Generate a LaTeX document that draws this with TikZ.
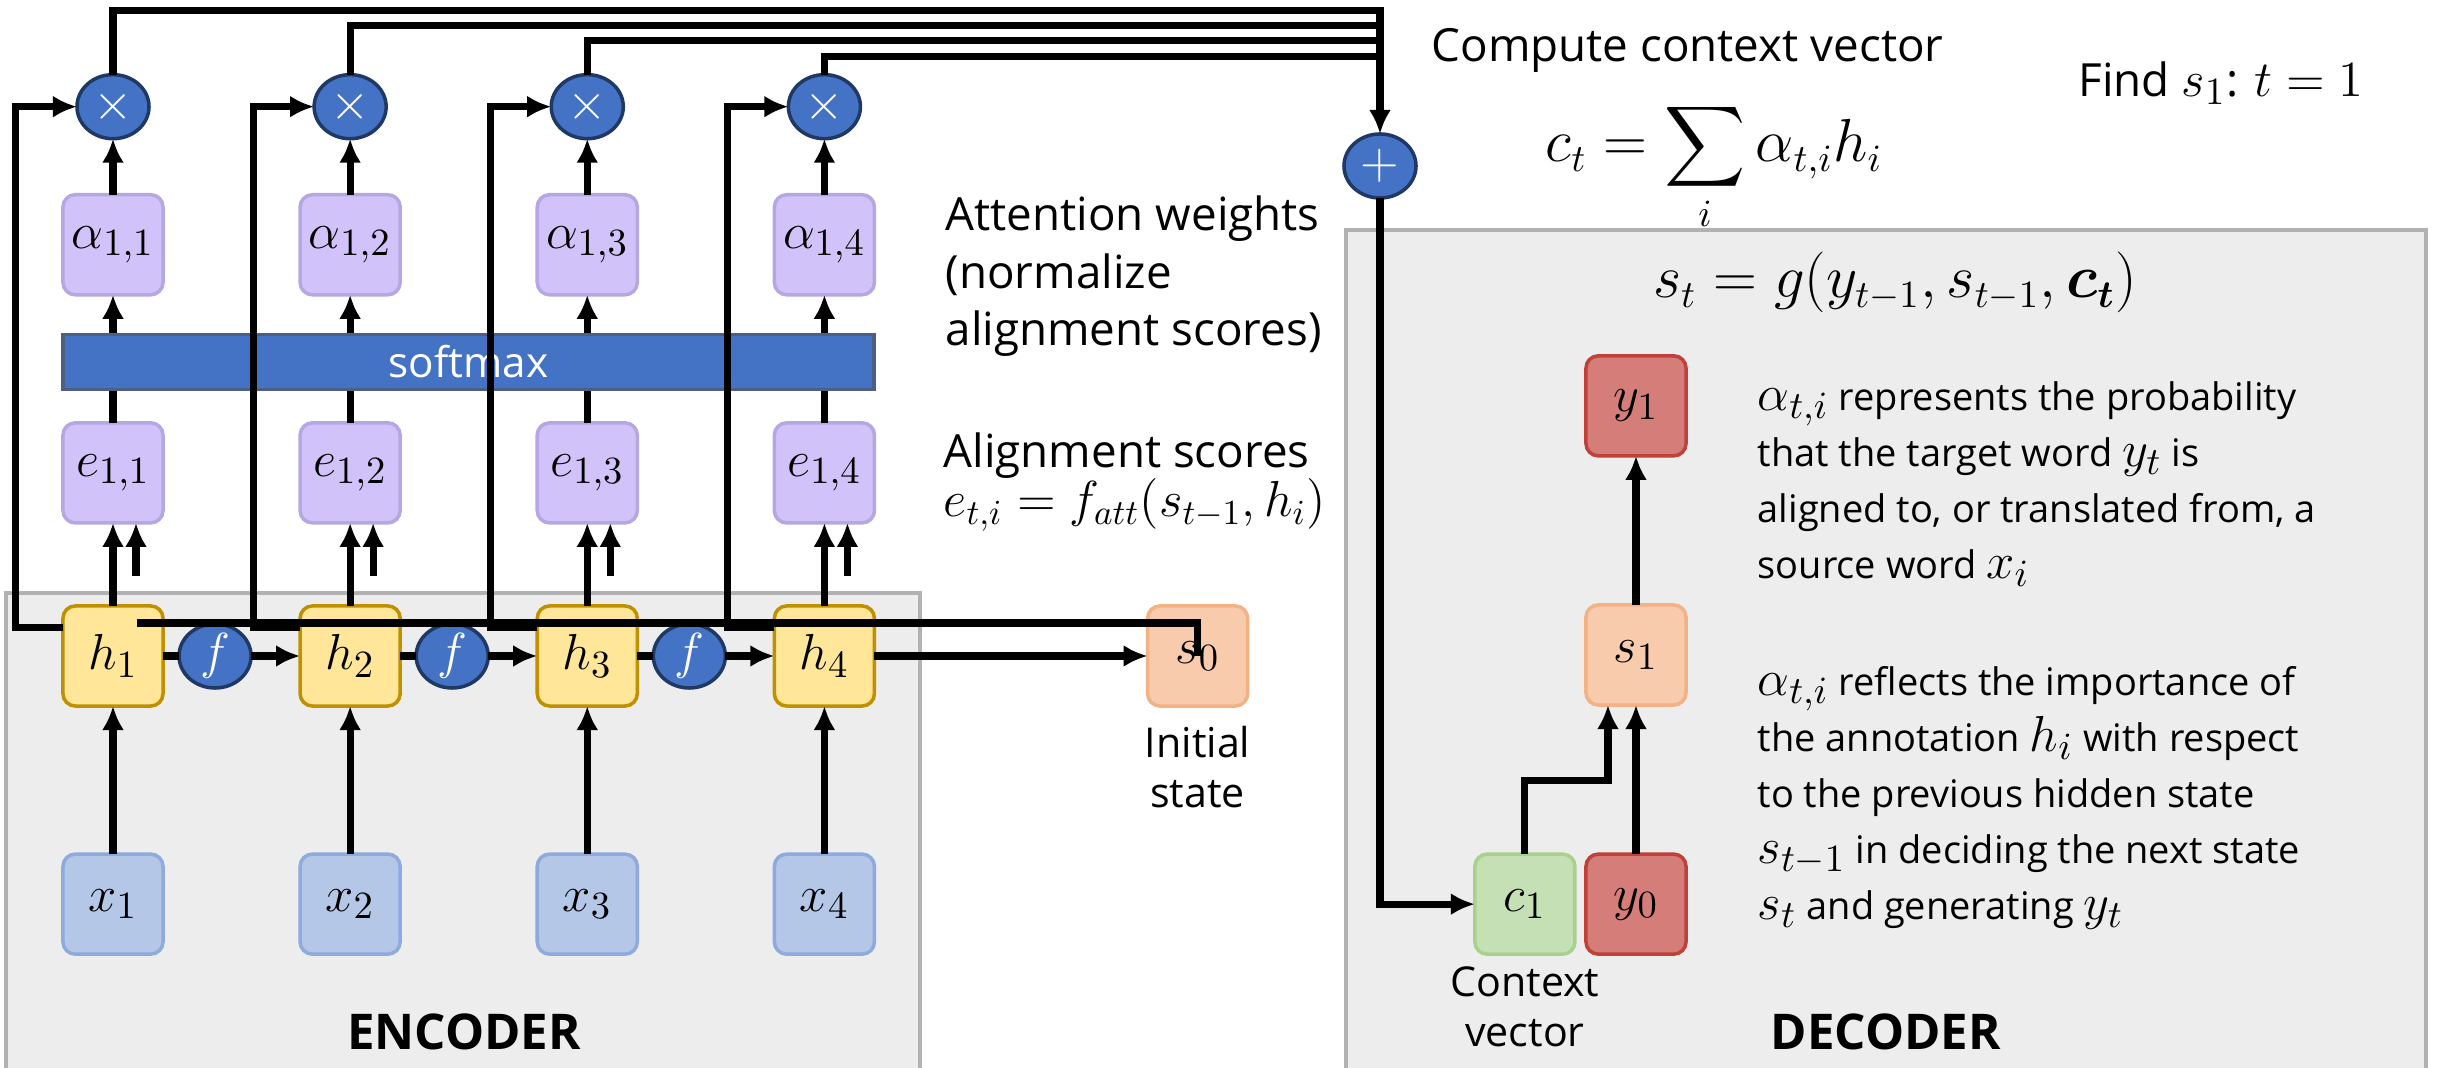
\documentclass[tikz,border=0pt]{standalone}
\usepackage{amsmath,amssymb}
\usepackage[no-math]{fontspec}
\setmainfont{Open Sans}
\usepackage{xcolor}
\usetikzlibrary{arrows.meta,positioning,shapes.geometric,calc}
\definecolor{opblue}{RGB}{68,114,196}
\definecolor{opedge}{RGB}{32,56,100}
\definecolor{lavfill}{RGB}{210,194,250}
\definecolor{lavedge}{RGB}{182,166,226}
\definecolor{hfill}{RGB}{255,230,153}
\definecolor{hedge}{RGB}{191,144,0}
\definecolor{xfill}{RGB}{180,199,231}
\definecolor{xedge}{RGB}{143,170,220}
\definecolor{sfill}{RGB}{248,203,173}
\definecolor{sedge}{RGB}{244,177,131}
\definecolor{yfill}{RGB}{213,126,121}
\definecolor{yedge}{RGB}{192,64,58}
\definecolor{cfill}{RGB}{197,224,180}
\definecolor{cedge}{RGB}{169,209,142}
\definecolor{panelfill}{RGB}{237,237,237}
\definecolor{paneledge}{RGB}{178,178,178}
\newcommand{\mth}[1]{{\fontsize{15}{15}\selectfont$#1$}}
\tikzset{
  bbox/.style={rounded corners=3.5pt, minimum width=1cm, minimum height=1cm, inner sep=0, outer sep=0, line width=1pt, font=\fontsize{15}{17}\selectfont},
  hbox/.style={bbox, fill=hfill, draw=hedge},
  xbox/.style={bbox, fill=xfill, draw=xedge},
  ebox/.style={bbox, fill=lavfill, draw=lavedge},
  sbox/.style={bbox, fill=sfill, draw=sedge},
  ybox/.style={bbox, fill=yfill, draw=yedge},
  cbox/.style={bbox, fill=cfill, draw=cedge},
  opnode/.style={ellipse, fill=opblue, draw=opedge, line width=1pt, text=white, minimum width=0.72cm, minimum height=0.64cm, inner sep=0, outer sep=0, font=\fontsize{14}{16}\selectfont},
  smbar/.style={rectangle, fill=opblue, draw=opedge!80, line width=1pt, text=white, minimum width=8.11cm, minimum height=0.55cm, inner sep=0, font=\fontsize{12}{14}\selectfont},
  panel/.style={fill=panelfill, draw=paneledge, line width=1pt},
  txt/.style={align=left, inner sep=0, font=\fontsize{13}{16.4}\selectfont},
  note/.style={align=left, inner sep=0, font=\fontsize{10.8}{15.9}\selectfont},
  fml/.style={inner sep=0, font=\fontsize{16}{18}\selectfont},
  lbl/.style={align=center, inner sep=0, font=\fontsize{11.7}{14.2}\selectfont},
  ptitle/.style={inner sep=0, font=\fontsize{14}{16}\selectfont\bfseries},
  fline/.style={line width=2pt},
  farr/.style={-{Latex[length=0.24cm,width=0.22cm]}, line width=2pt}
}
\begin{document}
\begin{tikzpicture}[x=0.01cm, y=-0.01cm]
\useasboundingbox (0,0) rectangle (2438,1068);
% panels
\draw[panel] (6,593) rectangle (920,1080);
\draw[panel] (1346,230) rectangle (2426,1080);
\node[ptitle] (enclbl) at (464,1032) {ENCODER};
\node[ptitle] (declbl) at (1886,1032) {DECODER};

% encoder
\node[hbox] (h1) at (113,656) {$h_1$};
\node[opnode, right=0.16cm of h1] (f1) {$f$};
\node[hbox, right=1.37cm of h1] (h2) {$h_2$};
\node[opnode, right=0.16cm of h2] (f2) {$f$};
\node[hbox, right=1.37cm of h2] (h3) {$h_3$};
\node[opnode, right=0.16cm of h3] (f3) {$f$};
\node[hbox, right=1.37cm of h3] (h4) {$h_4$};
\node[sbox, right=2.73cm of h4] (s0) {$s_0$};
\node[lbl, below=0.2cm of s0] (s0lbl) {Initial\\state};
\node[xbox, below=1.48cm of h1] (x1) {$x_1$};
\node[xbox, below=1.48cm of h2] (x2) {$x_2$};
\node[xbox, below=1.48cm of h3] (x3) {$x_3$};
\node[xbox, below=1.48cm of h4] (x4) {$x_4$};
\node[ebox, above=0.83cm of h1] (e1) {$e_{1,1}$};
\node[ebox, above=0.83cm of h2] (e2) {$e_{1,2}$};
\node[ebox, above=0.83cm of h3] (e3) {$e_{1,3}$};
\node[ebox, above=0.83cm of h4] (e4) {$e_{1,4}$};
\node[smbar] (sm) at (468.5,362) {softmax};
\node[ebox, above=1.28cm of e1] (a1) {$\alpha_{1,1}$};
\node[ebox, above=1.28cm of e2] (a2) {$\alpha_{1,2}$};
\node[ebox, above=1.28cm of e3] (a3) {$\alpha_{1,3}$};
\node[ebox, above=1.28cm of e4] (a4) {$\alpha_{1,4}$};
\node[opnode, above=0.56cm of a1] (m1) {$\times$};
\node[opnode, above=0.56cm of a2] (m2) {$\times$};
\node[opnode, above=0.56cm of a3] (m3) {$\times$};
\node[opnode, above=0.56cm of a4] (m4) {$\times$};
\node[opnode] (plus) at (1380,166) {$+$};

% decoder
\node[sbox] (s1) at (1636,655) {$s_1$};
\node[ybox, above=1.49cm of s1] (y1) {$y_1$};
\node[ybox, below=1.49cm of s1] (y0) {$y_0$};
\node[cbox, left=0.11cm of y0] (c1) {$c_1$};
\node[lbl, below=0.12cm of c1] (c1lbl) {Context\\vector};

% texts
\node[txt, anchor=north west] (attn) at (945,195) {Attention weights\\(normalize\\alignment scores)};
\node[txt, anchor=base west] (algn) at (943,468) {Alignment scores};
\node[fml, anchor=base west, font=\fontsize{14.5}{16}\selectfont] (algnf) at (943,517) {$e_{t,i} = f_{att}(s_{t-1}, h_i)$};
\node[txt, anchor=base west] (ctx) at (1431,62) {Compute context vector};
\node[fml, anchor=base west] (ctxf) at (1545,162) {$c_t = \displaystyle\sum_i \alpha_{t,i} h_i$};
\node[txt, anchor=base west] (find) at (2078,97) {Find \mth{s_1}: \mth{t = 1}};
\node[fml, anchor=base] (stf) at (1895,298) {$s_t = g(y_{t-1}, s_{t-1}, \boldsymbol{c_t})$};
\node[note, anchor=north west] (note1) at (1757,381) {\mth{\alpha_{t,i}} represents the probability\\that the target word \mth{y_t} is\\aligned to, or translated from, a\\source word \mth{x_i}};
\node[note, anchor=north west] (note2) at (1757,666) {\mth{\alpha_{t,i}} reflects the importance of\\the annotation \mth{h_i} with respect\\to the previous hidden state\\\mth{s_{t-1}} in deciding the next state\\\mth{s_t} and generating \mth{y_t}};

% encoder connectors
\draw[farr] (x1) -- (h1); \draw[farr] (x2) -- (h2); \draw[farr] (x3) -- (h3); \draw[farr] (x4) -- (h4);
\draw[fline] (h1) -- (f1); \draw[farr] (f1) -- (h2);
\draw[fline] (h2) -- (f2); \draw[farr] (f2) -- (h3);
\draw[fline] (h3) -- (f3); \draw[farr] (f3) -- (h4);
\draw[farr] (h4) -- (s0);
\draw[farr] (h1) -- (e1); \draw[farr] (h2) -- (e2); \draw[farr] (h3) -- (e3); \draw[farr] (h4) -- (e4);
\coordinate[below right=0.53cm and 0.23cm of e1.south] (q1);
\coordinate[below right=0.53cm and 0.23cm of e2.south] (q2);
\coordinate[below right=0.53cm and 0.23cm of e3.south] (q3);
\coordinate[below right=0.53cm and 0.23cm of e4.south] (q4);
\draw[farr] (q1) -- (q1 |- e1.south); \draw[farr] (q2) -- (q2 |- e2.south);
\draw[farr] (q3) -- (q3 |- e3.south); \draw[farr] (q4) -- (q4 |- e4.south);
\draw[fline] (e1) -- (e1 |- sm.south); \draw[fline] (e2) -- (e2 |- sm.south);
\draw[fline] (e3) -- (e3 |- sm.south); \draw[fline] (e4) -- (e4 |- sm.south);
\draw[farr] (a1 |- sm.north) -- (a1); \draw[farr] (a2 |- sm.north) -- (a2);
\draw[farr] (a3 |- sm.north) -- (a3); \draw[farr] (a4 |- sm.north) -- (a4);
\draw[farr] (a1) -- (m1); \draw[farr] (a2) -- (m2); \draw[farr] (a3) -- (m3); \draw[farr] (a4) -- (m4);
% s0 fed back along the h row
\coordinate (fb) at ($(h1.center)+(24,-33)$);
\draw[fline] (fb) -| (s0.center);
% h_i up to the products
\draw[farr] ([yshift=0.28cm]h1.west) -- ++(-47,0) |- (m1);
\draw[farr] ([yshift=0.28cm]h2.west) -- ++(-47,0) |- (m2);
\draw[farr] ([yshift=0.28cm]h3.west) -- ++(-47,0) |- (m3);
\draw[farr] ([yshift=0.28cm]h4.west) -- ++(-47,0) |- (m4);
% products to the sum
\coordinate (w1) at (1380,11); \coordinate (w2) at (1380,26);
\coordinate (w3) at (1380,41); \coordinate (w4) at (1380,57);
\draw[farr] (m1) |- (w1) -- (plus);
\draw[fline] (m2) |- (w2); \draw[fline] (m3) |- (w3); \draw[fline] (m4) |- (w4);

% decoder connectors
\draw[farr] (plus) |- (c1);
\draw[farr] (c1.north) -- ++(0,-74) -| ([xshift=-0.28cm]s1.south);
\draw[farr] (y0) -- (s1);
\draw[farr] (s1) -- (y1);
\end{tikzpicture}
\end{document}
